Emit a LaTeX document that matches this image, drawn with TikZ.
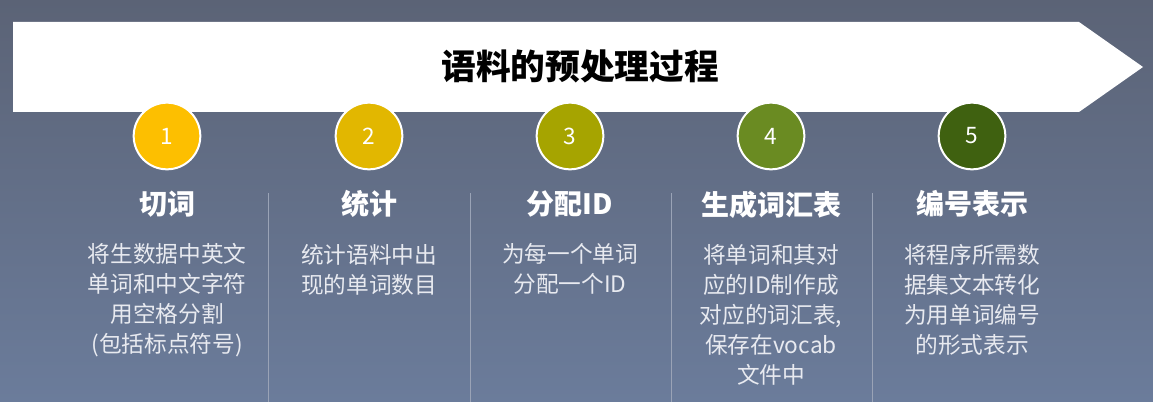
\documentclass[tikz,border=0pt]{standalone}
\usepackage{fontspec}
\setmainfont{Noto Sans CJK SC}
\usepackage{xcolor}
\usepackage{tikz}
\usetikzlibrary{positioning}

\definecolor{bgtop}{HTML}{5B6376}
\definecolor{bgbottom}{HTML}{6B7C9B}
\definecolor{bodygray}{HTML}{E8EAF0}
\definecolor{sepgray}{HTML}{9AA3B6}
\definecolor{stepA}{HTML}{FDBF00}
\definecolor{stepB}{HTML}{E2B700}
\definecolor{stepC}{HTML}{A6A400}
\definecolor{stepD}{HTML}{6A8B22}
\definecolor{stepE}{HTML}{3F6110}

\tikzset{
  numcircle/.style={circle, draw=white, line width=1.5pt, minimum size=50pt, inner sep=0pt,
    text=white, font=\fontsize{17}{17}\selectfont},
  headtext/.style={text=white, inner sep=0pt, font=\bfseries\fontsize{21}{21}\selectfont},
  bodytext/.style={text=bodygray, align=center, inner sep=0pt, font=\fontsize{17}{22.5}\selectfont},
  titletext/.style={text=black, inner sep=0pt, font=\bfseries\fontsize{26}{26}\selectfont},
  sepline/.style={draw=sepgray, line width=0.75pt}
}

\begin{document}
\begin{tikzpicture}[x=0.75pt,y=-0.75pt,node distance=15pt]
  \shade[top color=bgtop, bottom color=bgbottom] (0,0) rectangle (1153,402);
  \useasboundingbox (0,0) rectangle (1153,402);

  % banner
  \fill[white] (13,22) -- (1079,22) -- (1143,67) -- (1079,112) -- (13,112) -- cycle;
  \node[titletext] (title) at (580,66) {语料的预处理过程};

  % steps
  \node[numcircle, fill=stepA] (step1) at (167,136) {1};
  \node[numcircle, fill=stepB] (step2) at (369,136) {2};
  \node[numcircle, fill=stepC] (step3) at (570,136) {3};
  \node[numcircle, fill=stepD] (step4) at (771,136) {4};
  \node[numcircle, fill=stepE] (step5) at (972,136) {5};

  \node[headtext] (head1) [below=of step1] {切词};
  \node[headtext] (head2) [below=of step2] {统计};
  \node[headtext] (head3) [below=of step3] {分配ID};
  \node[headtext] (head4) [below=of step4] {生成词汇表};
  \node[headtext] (head5) [below=of step5] {编号表示};

  \node[bodytext] (desc1) [below=19.5pt of head1] {将生数据中英文\\单词和中文字符\\用空格分割\\(包括标点符号)};
  \node[bodytext] (desc2) [below=19.5pt of head2] {统计语料中出\\现的单词数目};
  \node[bodytext] (desc3) [below=19.5pt of head3] {为每一个单词\\分配一个ID};
  \node[bodytext] (desc4) [below=19.5pt of head4] {将单词和其对\\应的ID制作成\\对应的词汇表,\\保存在vocab\\文件中};
  \node[bodytext] (desc5) [below=19.5pt of head5] {将程序所需数\\据集文本转化\\为用单词编号\\的形式表示};

  % separators
  \draw[sepline] (268,193) -- (268,402);
  \draw[sepline] (470,193) -- (470,402);
  \draw[sepline] (671,193) -- (671,402);
  \draw[sepline] (872,193) -- (872,402);
\end{tikzpicture}
\end{document}
